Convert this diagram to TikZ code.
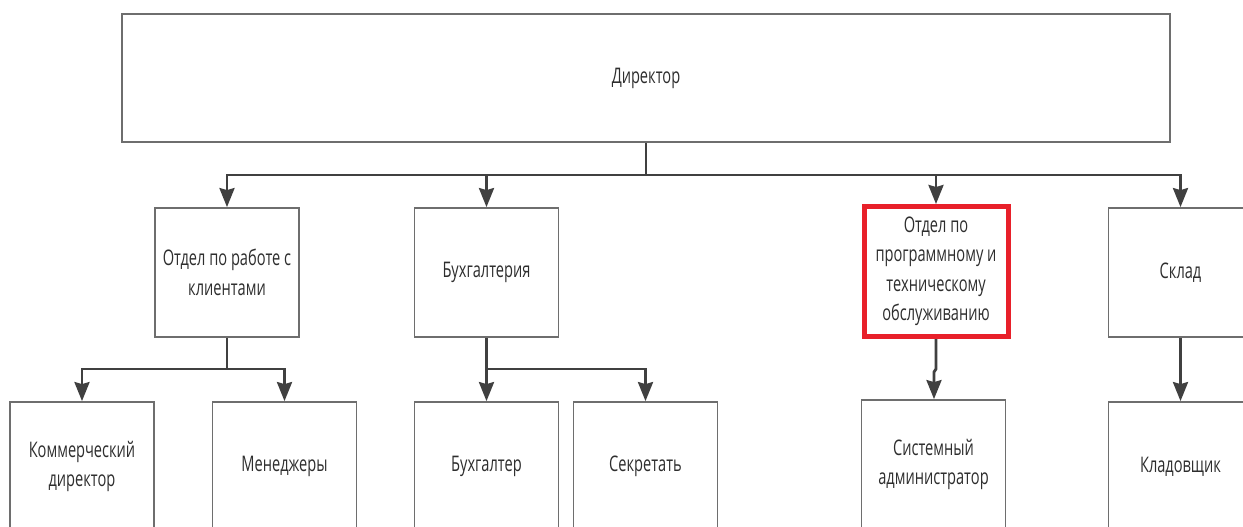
\documentclass[tikz,border=0pt]{standalone}
\usepackage{fontspec}
\setmainfont[FakeStretch=0.68]{Open Sans}
\usetikzlibrary{arrows.meta,positioning}
\definecolor{boxgray}{HTML}{6E6E6E}
\definecolor{linegray}{HTML}{404040}
\definecolor{txtgray}{HTML}{2E2E2E}
\definecolor{redline}{HTML}{E8202A}
\tikzset{
  orgbox/.style={draw=boxgray, line width=1.8pt, fill=white, minimum width=144pt, minimum height=129pt,
    inner sep=0pt, align=center, text=txtgray, font=\fontsize{21.5}{29.5}\selectfont},
  topbox/.style={orgbox, minimum width=1048pt, minimum height=128pt},
  redbox/.style={orgbox, draw=redline, line width=5pt, minimum width=144pt, minimum height=130pt},
  conn/.style={draw=linegray, line width=2.8pt},
  arr/.style={conn, -{Stealth[length=19pt 0, width=15pt 0, inset=2pt 0, fill=linegray]}},
}
\begin{document}
\begin{tikzpicture}[x=1pt,y=-1pt]
\useasboundingbox (0,0) rectangle (1243,527);
\clip (0,0) rectangle (1243,527);
\fill[white] (0,0) rectangle (1243,527);
% level 1
\node[topbox] (dir) at (646,78) {Директор};
% level 2
\node[orgbox] (A) at (227,272.5) {Отдел по работе с\\клиентами};
\node[orgbox] (B) at (486.5,272.5) {Бухгалтерия};
\node[redbox] (C) at (936,271.5) {Отдел по\\программному и\\техническому\\обслуживанию};
\node[orgbox] (D) at (1180.5,272.5) {Склад};
% level 3
\node[orgbox] (E) at (82,466.5) {Коммерческий\\директор};
\node[orgbox] (F) at (284.5,466.5) {Менеджеры};
\node[orgbox] (G) at (486.5,466.5) {Бухгалтер};
\node[orgbox] (H) at (645.5,466.5) {Секретать};
\node[orgbox] (I) at (933.5,464.5) {Системный\\администратор};
\node[orgbox] (J) at (1180.5,466.5) {Кладовщик};
% bus coordinates
\coordinate (bus) at (646,175);
\coordinate (busA) at (227,369);
\coordinate (busB) at (486.5,369);
\coordinate (jogC1) at (936,369);
\coordinate (jogC2) at (934,372);
% connectors
\draw[conn] (dir.south) -- (bus);
\draw[arr] (bus) -| (A.north);
\draw[arr] (bus) -| (B.north);
\draw[arr] (bus) -| (C.north);
\draw[arr] (bus) -| (D.north);
\draw[conn] (A.south) -- (busA);
\draw[arr] (busA) -| (E.north);
\draw[arr] (busA) -| (F.north);
\draw[arr] (B.south) -- (G.north);
\draw[arr] (busB) -| (H.north);
\draw[arr] (C.south) -- (jogC1) -- (jogC2) -- (I.north -| jogC2);
\draw[arr] (D.south) -- (J.north);
\end{tikzpicture}
\end{document}
